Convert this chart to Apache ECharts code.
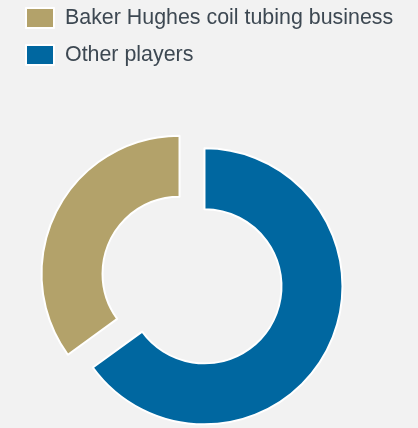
<!DOCTYPE html>
<html>
<head>
<meta charset="utf-8">
<script src="https://cdn.jsdelivr.net/npm/echarts@6/dist/echarts.min.js"></script>
<style>
html,body{margin:0;padding:0;background:#f2f2f2;}
#c{width:418px;height:428px;}
</style>
</head>
<body>
<div id="c"></div>
<script>
const categories = ["Other players", "Baker Hughes coil tubing business"];
const values = [65, 35];
const colors = ["#0067a0", "#b3a26a"];
const legendOrder = ["Baker Hughes coil tubing business", "Other players"];

const chart = echarts.init(document.getElementById('c'));
chart.setOption({
  backgroundColor: '#f2f2f2',
  animation: false,
  legend: {
    data: legendOrder,
    orient: 'vertical',
    left: 25,
    top: 7,
    padding: 0,
    icon: 'rect',
    itemWidth: 28,
    itemHeight: 20,
    itemGap: 15,
    selectedMode: false,
    itemStyle: { borderColor: '#ffffff', borderWidth: 2 },
    textStyle: { fontFamily: 'Liberation Sans, Arial, sans-serif', fontSize: 21.4, lineHeight: 20, color: '#3d4852', padding: [0, 0, 0, 6] }
  },
  series: [{
    type: 'pie',
    center: [192, 280],
    radius: [77, 138],
    startAngle: 90,
    clockwise: true,
    selectedMode: 'multiple',
    selectedOffset: 14,
    label: { show: false },
    labelLine: { show: false },
    emphasis: { disabled: true },
    select: { itemStyle: { borderColor: '#ffffff', borderWidth: 2 } },
    itemStyle: { borderColor: '#ffffff', borderWidth: 2 },
    data: categories.map((n, i) => ({ name: n, value: values[i], selected: true, itemStyle: { color: colors[i] } }))
  }]
});
</script>
</body>
</html>
